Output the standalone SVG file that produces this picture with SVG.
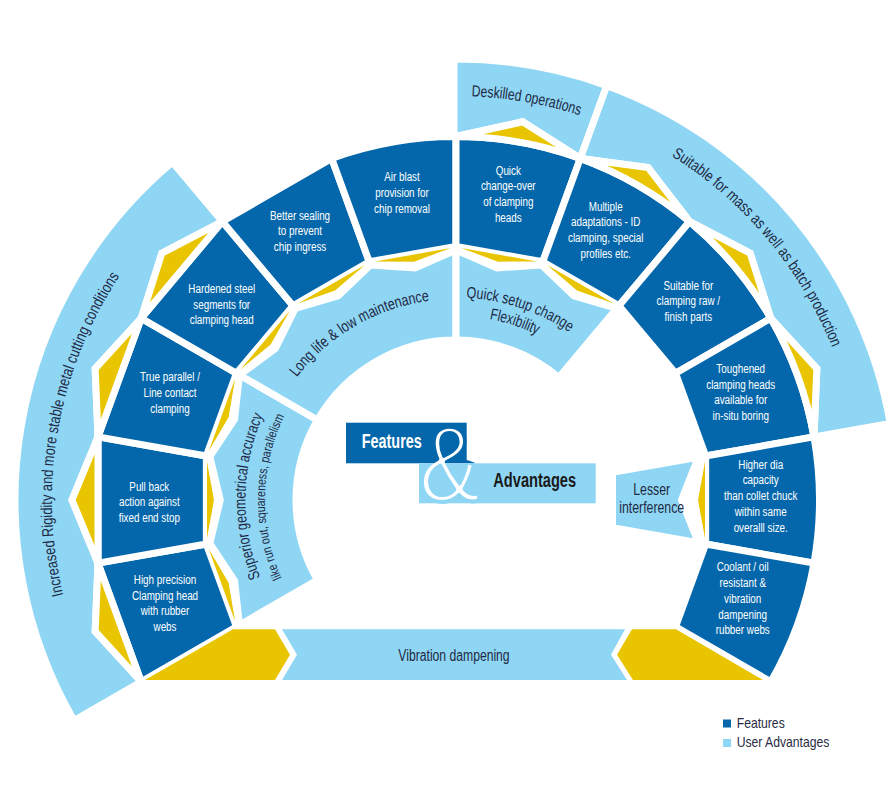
<svg xmlns="http://www.w3.org/2000/svg" width="891" height="811" viewBox="0 0 891 811">
<style>
.d{fill:#0567ab;stroke:#fff;stroke-width:7}
.l{fill:#8fd6f5;stroke:#fff;stroke-width:7}
.y{fill:#e8c500;stroke:#fff;stroke-width:7}
.yn{fill:#e8c500}
.ln{fill:#8fd6f5}
.ft{font-family:"Liberation Sans",Arial,sans-serif;font-size:13.5px;fill:#fff;text-anchor:middle}
.at{font-family:"Liberation Sans",Arial,sans-serif;font-size:16px;fill:#1e2a44}
</style>
<defs>
<path id="pDesk" d="M 456 96 A 404 404 0 0 1 594.18 120.36"/>
<path id="pMass" d="M 594.86 118.49 A 406 406 0 0 1 855.83 429.5"/>
<path id="pRigid" d="M 106.13 702 A 404 404 0 0 1 196.31 190.52"/>
<path id="pLong" d="M 281.93 399.5 A 201 201 0 0 1 456 299"/>
<path id="pQ1" d="M 456 297.5 A 202.5 202.5 0 0 1 577.87 338.28"/>
<path id="pQ2" d="M 456 316 A 184 184 0 0 1 565.45 352.09"/>
<path id="pS1" d="M 270.14 598.82 A 210.5 210.5 0 0 1 273.7 394.75"/>
<path id="pS2" d="M 287.36 589.67 A 191 191 0 0 1 290.59 404.5"/>
<linearGradient id="ampG" gradientUnits="userSpaceOnUse" x1="0" y1="-78" x2="0" y2="2">
<stop offset="0" stop-color="#0567ab"/><stop offset="0.5" stop-color="#0567ab"/>
<stop offset="0.5" stop-color="#8fd6f5"/><stop offset="1" stop-color="#8fd6f5"/>
</linearGradient>
</defs>

<!-- outer advantage bands -->
<g id="adv-rigidity">
<path class="l" d="M 141.2 681.75 L 95.16 631.34 L 98.02 563.12 L 72 500 L 98.02 436.88 L 95.16 368.66 L 141.2 318.25 L 161.84 253.17 L 222.35 221.54 L 172.53 162.18 A 441 441 0 0 0 74.08 720.5 Z"/>
<text class="at" text-anchor="middle"><textPath href="#pRigid" startOffset="50%" textLength="333" lengthAdjust="spacingAndGlyphs">Increased Rigidity and more stable metal cutting conditions</textPath></text>
</g>
<g id="adv-deskilled">
<path class="l" d="M 454 136.5 L 456 136.5 L 522.68 121.83 L 580.32 158.42 L 606.83 85.59 A 441 441 0 0 0 454 59 Z"/>
<text class="at" text-anchor="middle"><textPath href="#pDesk" startOffset="50%" textLength="110" lengthAdjust="spacingAndGlyphs">Deskilled operations</textPath></text>
</g>
<g id="adv-mass">
<path class="l" d="M 580.32 158.42 L 648 167.44 L 689.65 221.54 L 750.16 253.17 L 770.8 318.25 L 816.84 368.66 L 813.98 436.88 L 890.3 423.42 A 441 441 0 0 0 606.83 85.59 Z"/>
<text class="at" text-anchor="middle"><textPath href="#pMass" startOffset="50%" textLength="254" lengthAdjust="spacingAndGlyphs">Suitable for mass as well as batch production</textPath></text>
</g>

<!-- features -->
<g id="f-highprecision">
<path class="d" d="M 141.2 681.75 L 98.02 563.12 L 206.35 544.02 L 236.46 626.75 Z"/>
<text class="ft" transform="translate(165,583.8) scale(0.73,1)"><tspan x="0">High precision</tspan><tspan x="0" dy="15.8">Clamping head</tspan><tspan x="0" dy="15.8">with rubber</tspan><tspan x="0" dy="15.8">webs</tspan></text>
</g>
<g id="f-pullback">
<path class="d" d="M 98.02 563.12 L 98.02 436.88 L 206.35 455.98 L 206.35 544.02 Z"/>
<text class="ft" transform="translate(149.3,490.5) scale(0.73,1)"><tspan x="0">Pull back</tspan><tspan x="0" dy="15.8">action against</tspan><tspan x="0" dy="15.8">fixed end stop</tspan></text>
</g>
<g id="f-trueparallel">
<path class="d" d="M 98.02 436.88 L 141.2 318.25 L 236.46 373.25 L 206.35 455.98 Z"/>
<text class="ft" transform="translate(170,381.2) scale(0.73,1)"><tspan x="0">True parallel /</tspan><tspan x="0" dy="15.8">Line contact</tspan><tspan x="0" dy="15.8">clamping</tspan></text>
</g>
<g id="f-hardened">
<path class="d" d="M 141.2 318.25 L 222.35 221.54 L 293.05 305.81 L 236.46 373.25 Z"/>
<text class="ft" transform="translate(221.7,292.8) scale(0.73,1)"><tspan x="0">Hardened steel</tspan><tspan x="0" dy="15.8">segments for</tspan><tspan x="0" dy="15.8">clamping head</tspan></text>
</g>
<g id="f-sealing">
<path class="d" d="M 222.35 221.54 L 331.68 158.42 L 369.3 261.79 L 293.05 305.81 Z"/>
<text class="ft" transform="translate(300,219.5) scale(0.73,1)"><tspan x="0">Better sealing</tspan><tspan x="0" dy="15.8">to prevent</tspan><tspan x="0" dy="15.8">chip ingress</tspan></text>
</g>
<g id="f-airblast">
<path class="d" d="M 331.68 158.42 A 363.5 363.5 0 0 1 456 136.5 L 456 246.5 L 369.3 261.79 Z"/>
<text class="ft" transform="translate(402,181.2) scale(0.73,1)"><tspan x="0">Air blast</tspan><tspan x="0" dy="15.8">provision for</tspan><tspan x="0" dy="15.8">chip removal</tspan></text>
</g>
<g id="f-quickchange">
<path class="d" d="M 456 136.5 A 363.5 363.5 0 0 1 580.32 158.42 L 542.7 261.79 L 456 246.5 Z"/>
<text class="ft" transform="translate(508.3,174.5) scale(0.73,1)"><tspan x="0">Quick</tspan><tspan x="0" dy="15.8">change-over</tspan><tspan x="0" dy="15.8">of clamping</tspan><tspan x="0" dy="15.8">heads</tspan></text>
</g>
<g id="f-multiple">
<path class="d" d="M 580.32 158.42 A 363.5 363.5 0 0 1 689.65 221.54 L 618.95 305.81 L 542.7 261.79 Z"/>
<text class="ft" transform="translate(605.7,210.5) scale(0.73,1)"><tspan x="0">Multiple</tspan><tspan x="0" dy="15.8">adaptations - ID</tspan><tspan x="0" dy="15.8">clamping, special</tspan><tspan x="0" dy="15.8">profiles etc.</tspan></text>
</g>
<g id="f-suitable">
<path class="d" d="M 689.65 221.54 A 363.5 363.5 0 0 1 770.8 318.25 L 675.54 373.25 L 618.95 305.81 Z"/>
<text class="ft" transform="translate(688.3,289.5) scale(0.73,1)"><tspan x="0">Suitable for</tspan><tspan x="0" dy="15.8">clamping raw /</tspan><tspan x="0" dy="15.8">finish parts</tspan></text>
</g>
<g id="f-toughened">
<path class="d" d="M 770.8 318.25 A 363.5 363.5 0 0 1 813.98 436.88 L 705.65 455.98 L 675.54 373.25 Z"/>
<text class="ft" transform="translate(740.7,372.8) scale(0.73,1)"><tspan x="0">Toughened</tspan><tspan x="0" dy="15.8">clamping heads</tspan><tspan x="0" dy="15.8">available for</tspan><tspan x="0" dy="15.8">in-situ boring</tspan></text>
</g>
<g id="f-higherdia">
<path class="d" d="M 813.98 436.88 A 363.5 363.5 0 0 1 813.98 563.12 L 705.65 544.02 L 705.65 455.98 Z"/>
<text class="ft" transform="translate(760.7,468.5) scale(0.73,1)"><tspan x="0">Higher dia</tspan><tspan x="0" dy="15.8">capacity</tspan><tspan x="0" dy="15.8">than collet chuck</tspan><tspan x="0" dy="15.8">within same</tspan><tspan x="0" dy="15.8">overalll size.</tspan></text>
</g>
<g id="f-coolant">
<path class="d" d="M 813.98 563.12 A 363.5 363.5 0 0 1 770.8 681.75 L 675.54 626.75 L 705.65 544.02 Z"/>
<text class="ft" transform="translate(742.7,571.2) scale(0.73,1)"><tspan x="0">Coolant / oil</tspan><tspan x="0" dy="15.8">resistant &amp;</tspan><tspan x="0" dy="15.8">vibration</tspan><tspan x="0" dy="15.8">dampening</tspan><tspan x="0" dy="15.8">rubber webs</tspan></text>
</g>

<!-- inner advantage bands -->
<g id="adv-superior">
<path class="l" d="M 239.49 625 L 234.51 580.61 L 209.8 543.41 L 220.3 500 L 209.8 456.59 L 234.51 419.39 L 239.49 375 L 317.44 420 A 160 160 0 0 0 317.44 580 Z"/>
<text class="at" text-anchor="middle"><textPath href="#pS1" startOffset="50%" textLength="166" lengthAdjust="spacingAndGlyphs">Superior geometrical accuracy</textPath></text>
<text class="at" text-anchor="middle" style="font-size:13px"><textPath href="#pS2" startOffset="50%" textLength="167" lengthAdjust="spacingAndGlyphs">like run out, squareness, parallelism</textPath></text>
</g>
<g id="adv-longlife">
<path class="l" d="M 239.49 375 L 275.44 348.49 L 295.3 308.49 L 338.15 295.88 L 370.49 265.08 L 415.07 267.88 L 456 250 L 456 340 A 160 160 0 0 0 317.44 420 Z"/>
<text class="at" text-anchor="middle"><textPath href="#pLong" startOffset="50%" textLength="157" lengthAdjust="spacingAndGlyphs">Long life &amp; low maintenance</textPath></text>
</g>
<g id="adv-quicksetup">
<path class="l" d="M 456 250 L 496.93 267.88 L 541.51 265.08 L 573.85 295.88 L 616.7 308.49 L 558.85 377.43 A 160 160 0 0 0 456 340 Z"/>
<text class="at" text-anchor="middle"><textPath href="#pQ1" startOffset="50%" textLength="110" lengthAdjust="spacingAndGlyphs">Quick setup change</textPath></text>
<text class="at" text-anchor="middle"><textPath href="#pQ2" startOffset="50%" textLength="50" lengthAdjust="spacingAndGlyphs">Flexibility</textPath></text>
</g>
<g id="adv-lesser">
<path class="l" d="M 612.5 472.4 L 698.26 457.28 L 681.5 500 L 698.26 542.72 L 612.5 527.6 Z"/>
<text class="at" text-anchor="middle" transform="translate(651.7,494.5) scale(0.77,1)"><tspan x="0">Lesser</tspan><tspan x="0" dy="19">interference</tspan></text>
</g>
<g id="adv-vibration">
<path class="ln" d="M 282 629.3 L 625 629.3 L 611 654.7 L 627 680 L 282 680 L 297 654.7 Z"/>
<text class="at" text-anchor="middle" transform="translate(454,660.5) scale(0.76,1)">Vibration dampening</text>
</g>

<!-- connectors -->
<g id="connectors">
<path class="y" d="M 141.2 681.75 L 95.16 631.34 L 98.02 563.12 Z"/>
<path class="y" d="M 98.02 563.12 L 72 500 L 98.02 436.88 Z"/>
<path class="y" d="M 98.02 436.88 L 95.16 368.66 L 141.2 318.25 Z"/>
<path class="y" d="M 141.2 318.25 L 161.84 253.17 L 222.35 221.54 Z"/>
<path class="y" d="M 456 136.5 L 522.68 121.83 L 580.32 158.42 A 363.5 363.5 0 0 0 456 136.5 Z"/>
<path class="y" d="M 580.32 158.42 L 648 167.44 L 689.65 221.54 A 363.5 363.5 0 0 0 580.32 158.42 Z"/>
<path class="y" d="M 689.65 221.54 L 750.16 253.17 L 770.8 318.25 A 363.5 363.5 0 0 0 689.65 221.54 Z"/>
<path class="y" d="M 770.8 318.25 L 816.84 368.66 L 813.98 436.88 A 363.5 363.5 0 0 0 770.8 318.25 Z"/>
<path class="yn" d="M 235.17 621.4 L 228.59 582.77 L 208.8 548.95 Z"/>
<path class="yn" d="M 206.97 538.55 L 214 500 L 206.97 461.45 Z"/>
<path class="yn" d="M 208.8 451.05 L 228.59 417.23 L 235.17 378.6 Z"/>
<path class="yn" d="M 240.47 369.46 L 270.62 344.44 L 290.01 310.39 Z"/>
<path class="yn" d="M 298.1 303.61 L 335 290.42 L 364.87 265.06 Z"/>
<path class="yn" d="M 374.79 261.44 L 413.98 261.68 L 450.72 248.06 Z"/>
<path class="yn" d="M 461.28 248.06 L 498.02 261.68 L 537.21 261.44 Z"/>
<path class="yn" d="M 547.13 265.06 L 577 290.42 L 613.9 303.61 Z"/>
<path class="yn" d="M 705.03 461.45 L 698 500 L 705.03 538.55 Z"/>
<path class="yn" d="M 145 680 L 233 629.3 L 275 629.3 L 290 654.7 L 275 680 Z"/>
<path class="yn" d="M 632 629.3 L 676 629.3 L 763 680 L 633 680 L 617 654.7 Z"/>
</g>

<!-- title -->
<g id="title">
<rect x="346" y="422.7" width="120.7" height="40.6" fill="#0567ab"/>
<rect x="419" y="463.3" width="176.7" height="40" fill="#8fd6f5"/>
<text transform="translate(361.7,448.3) scale(0.74,1)" style="font-family:'Liberation Sans',Arial,sans-serif;font-weight:bold;font-size:19.5px;fill:#fff">Features</text>
<text transform="translate(493.3,487.3) scale(0.75,1)" style="font-family:'Liberation Sans',Arial,sans-serif;font-weight:bold;font-size:19.5px;fill:#1a1a1a">Advantages</text>
<text transform="translate(419,501) scale(0.85,1)" style="font-family:'Liberation Sans',Arial,sans-serif;font-size:108px;fill:#fff;stroke:url(#ampG);stroke-width:4;stroke-linejoin:round">&amp;</text>
</g>

<!-- legend -->
<g id="legend">
<rect x="723" y="719.5" width="8" height="8" fill="#0567ab"/>
<rect x="723" y="739" width="8" height="8" fill="#8fd6f5"/>
<text transform="translate(736.7,727.5) scale(0.84,1)" style="font-family:'Liberation Sans',Arial,sans-serif;font-size:14.5px;fill:#2a2d45">Features</text>
<text transform="translate(736.7,747) scale(0.84,1)" style="font-family:'Liberation Sans',Arial,sans-serif;font-size:14.5px;fill:#2a2d45">User Advantages</text>
</g>
</svg>
